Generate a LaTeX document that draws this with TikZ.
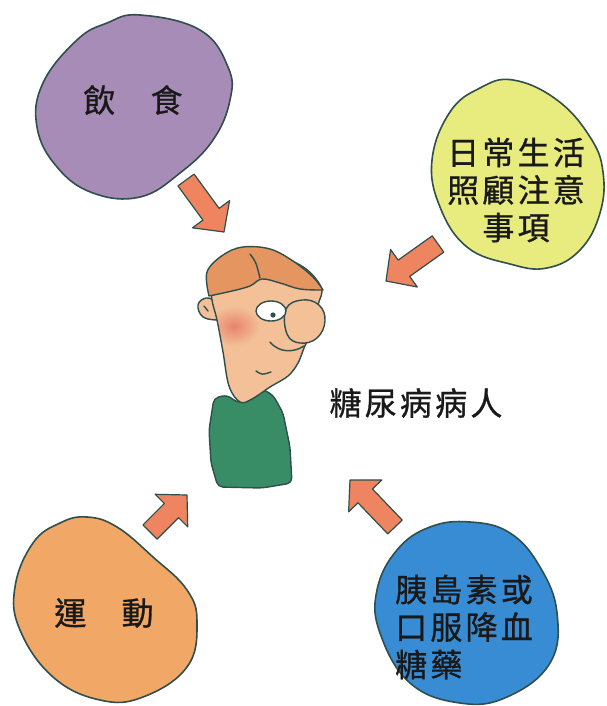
\documentclass[tikz,border=0pt]{standalone}
\usepackage{fontspec}
\usepackage{tikz}
\usetikzlibrary{calc}
\newfontfamily\cjk[LetterSpace=10, FakeBold=0.9]{Noto Sans CJK TC}

\definecolor{ink}{RGB}{48,78,76}
\definecolor{dietpurple}{RGB}{168,140,184}
\definecolor{careyellow}{RGB}{232,235,125}
\definecolor{sportorange}{RGB}{241,168,102}
\definecolor{drugblue}{RGB}{56,140,212}
\definecolor{arrowred}{RGB}{238,132,96}
\definecolor{shirt}{RGB}{56,140,102}
\definecolor{skin}{RGB}{243,192,152}
\definecolor{hair}{RGB}{229,150,96}
\definecolor{blush}{RGB}{232,132,108}

\tikzstyle{blob} = [draw=ink, line width=1.6pt]
\tikzstyle{outline} = [draw=ink, line width=1.4pt, line join=round, line cap=round]
\tikzstyle{fat} = [fill=arrowred, draw=ink, line width=1.2pt, line join=round]
\tikzstyle{cjktext} = [font={\cjk\fontsize{32}{37.5}\selectfont}, text=black!90, inner sep=0pt]

% fat block arrow from #1 (tail) to #2 (tip)
\newcommand{\blockarrow}[2]{%
  \coordinate (neck) at ($(#2)!22pt!(#1)$);
  \draw[fat] ($(#1)!10pt!90:(#2)$) -- ($(neck)!10pt!90:(#2)$) -- ($(neck)!23pt!90:(#2)$)
    -- (#2) -- ($(neck)!23pt!-90:(#2)$) -- ($(neck)!10pt!-90:(#2)$) -- ($(#1)!10pt!-90:(#2)$) -- cycle;
}

\begin{document}
\begin{tikzpicture}[x=1pt, y=-1pt]
    \fill[white] (0,0) rectangle (607,706);
    \useasboundingbox (0,0) rectangle (607,706);

    % Four blobs
    \draw[blob, fill=dietpurple] plot[smooth cycle, tension=0.7] coordinates {
        (140,15) (200,30) (228,67) (230,100) (213,140) (180,173) (140,197)
        (93,193) (57,167) (37,127) (43,83) (77,40) (107,23)};
    \draw[blob, fill=careyellow] plot[smooth cycle, tension=0.7] coordinates {
        (513,80) (557,100) (590,137) (603,172) (600,213) (580,250) (547,268)
        (510,264) (467,247) (440,207) (432,160) (450,112) (480,88)};
    \draw[blob, fill=sportorange] plot[smooth cycle, tension=0.7] coordinates {
        (87,517) (117,527) (153,557) (187,590) (197,623) (187,667) (143,697)
        (100,700) (53,677) (20,630) (15,587) (33,543) (60,523)};
    \draw[blob, fill=drugblue] plot[smooth cycle, tension=0.7] coordinates {
        (470,522) (510,533) (540,567) (557,613) (550,663) (507,697) (460,703)
        (410,683) (380,633) (377,590) (397,550) (430,527)};

    % Labels
    \node[cjktext] (diet) at (133,100) {飲\hspace{1.1em}食};
    \node[cjktext, align=center] (care) at (516,190) {日常生活\\照顧注意\\事項};
    \node[cjktext] (sport) at (104,613) {運\hspace{1.1em}動};
    \node[cjktext, align=left, anchor=west] (drug) at (395,627) {胰島素或\\口服降血\\糖藥};
    \node[cjktext] (patient) at (416,403) {糖尿病病人};

    % Shirt
    \draw[outline, fill=shirt, rounded corners=5pt] (214,398) -- (227,395) -- (238,403)
        -- (249,400) -- (251,392) -- (262,389) -- (273,395) -- (283,413) -- (290,447)
        -- (292,483) -- (262,488) -- (218,487) -- (211,463) -- (209,430) -- cycle;

    % Ear
    \draw[outline, fill=skin] plot[smooth, tension=0.7] coordinates {
        (217,320) (203,317) (198,305) (206,298) (216,301)};
    % Head
    \path[save path=\headpath] plot[smooth cycle, tension=0.6] coordinates {
        (213,288) (226,262) (258,252) (300,265) (321,287) (318,305) (312,330)
        (304,348) (298,363) (288,376) (270,387) (252,399) (240,402) (229,386)
        (223,352) (217,320) (212,300)};
    \fill[skin, use path=\headpath];
    \begin{scope}
        \clip[use path=\headpath];
        \shade[inner color=blush, outer color=skin] (234,326) ellipse [x radius=26, y radius=20];
    \end{scope}
    \draw[outline, use path=\headpath];

    % Hair
    \draw[outline, fill=hair] plot[smooth, tension=0.6] coordinates {
        (209,296) (207,272) (223,255) (243,247) (270,249) (293,261) (313,277) (323,290)}
        -- plot[smooth, tension=0.6] coordinates {
        (323,290) (300,289) (280,283) (262,279) (250,286) (232,291) (209,296)} -- cycle;
    \draw[outline] (250,254) .. controls (256,262) .. (260,278);

    % Nose, eye, mouth
    \draw[outline, fill=skin] plot[smooth cycle, tension=0.7] coordinates {
        (286,309) (302,300) (319,305) (325,321) (317,338) (300,343) (287,334)};
    \draw[outline, fill=white] (271,311) ellipse [x radius=15, y radius=10];
    \fill[ink] (273,315) circle (2.6);
    \draw[outline] (270,342) .. controls (280,354) and (295,352) .. (304,346);
    \draw[outline] (256,371) .. controls (262,375) .. (271,372);
    \draw[outline] (204,306) -- (208,311);

    % Arrows towards the patient
    \coordinate (dietTail) at (186,180);
    \coordinate (dietTip) at (224,232);
    \coordinate (careTail) at (438,244);
    \coordinate (careTip) at (386,281);
    \coordinate (sportTail) at (150,532);
    \coordinate (sportTip) at (187,495);
    \coordinate (drugTail) at (395,527);
    \coordinate (drugTip) at (350,480);
    \blockarrow{dietTail}{dietTip}
    \blockarrow{careTail}{careTip}
    \blockarrow{sportTail}{sportTip}
    \blockarrow{drugTail}{drugTip}
\end{tikzpicture}
\end{document}
